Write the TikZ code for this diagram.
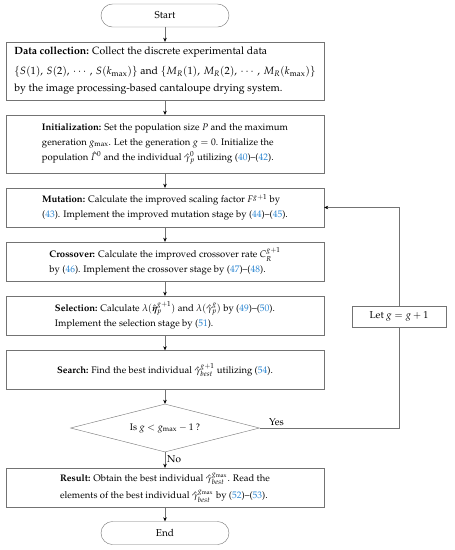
\documentclass[tikz,border=0pt]{standalone}
\usepackage[T1]{fontenc}
\usepackage{amsmath,amssymb}
\usepackage{mathpazo}
\usepackage{tikz}
\usetikzlibrary{arrows.meta,positioning,shapes.geometric}
\definecolor{refblue}{RGB}{45,135,210}
\definecolor{linegray}{RGB}{115,115,115}
\newcommand{\refno}[1]{({\color{refblue}#1})}

\begin{document}
\begin{tikzpicture}[
  x=1pt,y=-1pt,
  box/.style={draw=linegray, align=left, minimum width=318pt, minimum height=39pt, inner sep=2pt,
    font={\fontsize{9.5}{15}\selectfont\lineskiplimit=3pt\lineskip=5pt}},
  tall/.style={minimum height=58pt},
  term/.style={draw=linegray, rounded corners=11.5pt, minimum width=128pt, minimum height=23pt, font=\fontsize{10}{15}\selectfont},
  cond/.style={draw=linegray, diamond, aspect=3.9, minimum width=189pt, minimum height=48pt, inner sep=0pt, font=\fontsize{9.5}{15}\selectfont},
  lab/.style={font=\fontsize{10}{15}\selectfont, inner sep=2pt},
  arr/.style={draw=linegray, -{Stealth[length=4pt,width=3.5pt,color=black]}}
]
\useasboundingbox (0,0) rectangle (455,550);
\node[term] (start) at (165,15.5) {Start};
\node[box, tall, font=\fontsize{10.5}{15}\selectfont] (data) at (165,71) {\textbf{Data collection:} Collect the discrete experimental data\\[5pt]
  $\{S(1),\,S(2),\,\cdots,\,S(k_{\max})\}$ and $\{M_R(1),\,M_R(2),\,\cdots,\,M_R(k_{\max})\}$\\[2pt]
  by the image processing-based cantaloupe drying system.};
\node[box, tall] (init) at (165,144) {\textbf{Initialization:} Set the population size $P$ and the maximum\\
  generation $g_{\max}$. Let the generation $g=0$. Initialize the\\
  population $\hat{\varGamma}^0$ and the individual $\hat{\gamma}_p^0$ utilizing \refno{40}--\refno{42}.};
\node[box] (mut) at (165,207.5) {\textbf{Mutation:} Calculate the improved scaling factor $F^{g+1}$ by\\
  \refno{43}. Implement the improved mutation stage by \refno{44}--\refno{45}.};
\node[box] (cross) at (165,261.5) {\textbf{Crossover:} Calculate the improved crossover rate $C_R^{g+1}$\\
  by \refno{46}. Implement the crossover stage by \refno{47}--\refno{48}.};
\node[box] (sel) at (165,315.5) {\textbf{Selection:} Calculate $\lambda(\hat{\boldsymbol{\eta}}_p^{g+1})$ and $\lambda(\hat{\gamma}_p^{g})$ by \refno{49}--\refno{50}.\\
  Implement the selection stage by \refno{51}.};
\node[box] (search) at (165,370) {\textbf{Search:} Find the best individual $\hat{\gamma}_{best}^{g+1}$ utilizing \refno{54}.};
\node[cond] (dec) at (165,428) {Is $g<g_{\max}-1$ ?};
\node[box] (res) at (165,487.5) {\textbf{Result:} Obtain the best individual $\hat{\gamma}_{best}^{g_{\max}}$. Read the\\
  elements of the best individual $\hat{\gamma}_{best}^{g_{\max}}$ by \refno{52}--\refno{53}.};
\node[term] (end) at (165,533) {End};
\node[draw=linegray, minimum width=94pt, minimum height=21pt, inner sep=2pt, font=\fontsize{10}{15}\selectfont] (let) at (399,316.5) {Let $g=g+1$};

\draw[arr] (start) -- (data);
\draw[arr] (data) -- (init);
\draw[arr] (init) -- (mut);
\draw[arr] (mut) -- (cross);
\draw[arr] (cross) -- (sel);
\draw[arr] (sel) -- (search);
\draw[arr] (search) -- (dec);
\draw[arr] (dec) -- node[lab, right, pos=0.45] {No} (res);
\draw[arr] (res) -- (end);
\draw[draw=linegray] (dec.east) -- node[lab, above, pos=0.12] {Yes} (dec.east -| let.south) -- (let.south);
\draw[arr] (let.north) |- (mut.east);
\end{tikzpicture}
\end{document}
